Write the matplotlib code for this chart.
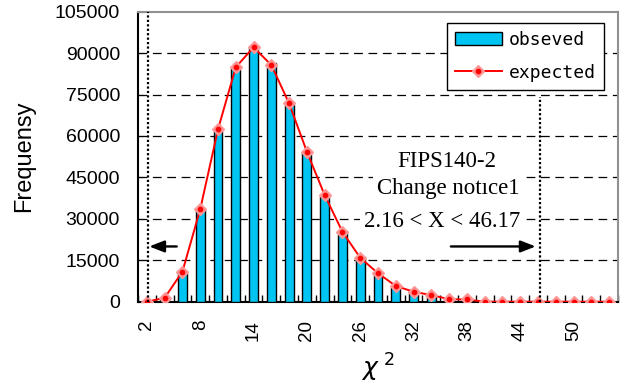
import numpy as np
import matplotlib
matplotlib.use('Agg')
import matplotlib.pyplot as plt
from matplotlib.legend_handler import HandlerTuple

categories = [2, 4, 6, 8, 10, 12, 14, 16, 18, 20, 22, 24, 26, 28,
              30, 32, 34, 36, 38, 40, 42, 44, 46, 48, 50, 52, 54]
observed = [0, 1200, 11000, 33500, 62500, 85100, 92300, 86300, 71200, 54300,
            38300, 25700, 16300, 10300, 6000, 4200, 1800, 600, 300, 100,
            0, 0, 0, 0, 0, 0, 0]
expected = [0, 1400, 10900, 33500, 62400, 84900, 92100, 85700, 71800, 54300,
            38600, 25300, 15900, 10300, 5700, 3600, 2400, 900, 800, 0,
            0, 0, 0, 0, 0, 0, 0]
yticks = [0, 15000, 30000, 45000, 60000, 75000, 90000, 105000]
xtick_labels = [2, 8, 14, 20, 26, 32, 38, 44, 50]
lo, hi = 2.16, 46.17
note_lines = ['FIPS140-2', 'Change notıce1', '%.2f < X < %.2f' % (lo, hi)]

plt.rcParams['font.family'] = ['Liberation Sans', 'DejaVu Sans']

fig = plt.figure(figsize=(6.22, 3.85), dpi=100)
ax = fig.add_axes([138/622, 1-301.7/385, 480/622, 290/385])

x = np.arange(len(categories))
bars = ax.bar(x, observed, width=0.5, color='#00C4F2', edgecolor='black',
              linewidth=1.0, zorder=3)
l1, = ax.plot(x, expected, color='red', lw=1.4, marker='D', ms=6.5,
              mfc='#ff8a8a', mec='#ff9a9a', mew=1.0, zorder=4)
l2, = ax.plot(x, expected, ls='none', marker='o', ms=3, mfc='red',
              mec='red', zorder=5)

# threshold lines (value -> category position)
plo = np.interp(lo, categories, x)
phi = np.interp(hi, categories, x)
ax.axvline(plo, color='black', ls=(0, (1, 1)), lw=1.6, zorder=8)
ax.plot([phi, phi], [0, 74000], color='black', ls=(0, (1, 1)), lw=1.6, zorder=8)

ax.annotate('', xy=(0.13, 20000), xytext=(1.68, 20000),
            arrowprops=dict(arrowstyle='-|>,head_length=0.9,head_width=0.35',
                            color='black', lw=1.7, shrinkA=0, shrinkB=0))
ax.annotate('', xy=(21.87, 20000), xytext=(17.1, 20000),
            arrowprops=dict(arrowstyle='-|>,head_length=0.9,head_width=0.35',
                            color='black', lw=1.7, shrinkA=0, shrinkB=0))

for txt, tx, ty in zip(note_lines, [0.644, 0.646, 0.634], [0.482, 0.389, 0.275]):
    ax.text(tx, ty, txt, transform=ax.transAxes, ha='center', va='center',
            fontsize=16.5, family=['Liberation Serif', 'DejaVu Serif'],
            bbox=dict(facecolor='white', edgecolor='none', pad=3), zorder=7)

ax.set_xlim(-0.5, len(categories) - 0.5)
ax.set_ylim(0, 105000)
ax.set_yticks(yticks)
ax.set_yticklabels([str(v) for v in yticks], fontsize=14)
ax.set_xticks([categories.index(c) for c in xtick_labels])
ax.set_xticklabels([str(c) for c in xtick_labels], rotation=90, fontsize=13.5)
ax.set_xticks(np.arange(len(categories) + 1) - 0.5, minor=True)
ax.tick_params(axis='x', which='major', length=0, pad=13)
ax.tick_params(axis='x', which='minor', direction='in', length=5, width=1)
ax.tick_params(axis='y', direction='in', length=4, pad=13)

for v in yticks[1:-1]:
    ax.axhline(v, color='black', lw=0.9, ls=(0, (7, 4.5)), zorder=1)

ax.spines['left'].set_linewidth(1.5)
ax.spines['bottom'].set_linewidth(1.5)
ax.spines['top'].set_color('#909090')
ax.spines['right'].set_color('#909090')
ax.spines['top'].set_linewidth(1.5)
ax.spines['right'].set_linewidth(1.5)

ax.set_ylabel('Frequensy', fontsize=17, labelpad=14)
ax.set_xlabel(r'$\chi^{\ 2}$', fontsize=18, labelpad=8)

leg = ax.legend([bars, (l1, l2)], ['obseved', 'expected'],
                handler_map={tuple: HandlerTuple(ndivide=1)},
                loc='upper right', bbox_to_anchor=(0.971, 0.961),
                borderaxespad=0, fancybox=False, edgecolor='black',
                framealpha=1, prop={'family': 'DejaVu Sans Mono', 'size': 13},
                handlelength=2.6, handletextpad=0.4, labelspacing=0.8,
                borderpad=0.45)
leg.get_frame().set_linewidth(1.0)

fig.savefig('out.png', dpi=100)
